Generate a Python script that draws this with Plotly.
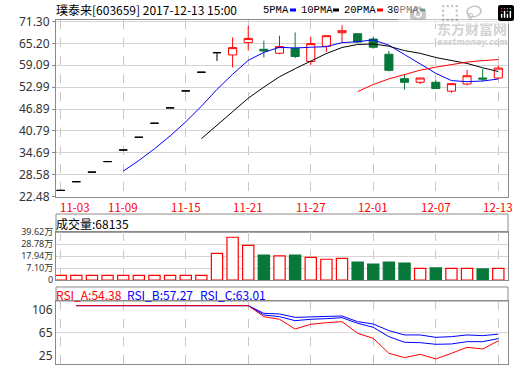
import plotly.graph_objects as go
import pandas as pd

# ---------------- data ----------------
dates = ["11-03", "11-06", "11-07", "11-08", "11-09", "11-10", "11-13", "11-14",
         "11-15", "11-16", "11-17", "11-20", "11-21", "11-22", "11-23", "11-24",
         "11-27", "11-28", "11-29", "11-30", "12-01", "12-04", "12-05", "12-06",
         "12-07", "12-08", "12-11", "12-12", "12-13"]
tick_labels = ["11-03", "11-09", "11-15", "11-21", "11-27", "12-01", "12-07", "12-13"]

opens = [24.24, 26.66, 29.33, 32.26, 35.49, 39.04, 42.94, 47.23, 51.95, 57.15, 62.60,
         61.97, 65.39, 63.54, 62.44, 63.82, 60.15, 64.37, 68.15, 67.88, 66.40,
         62.16, 55.35, 54.35, 54.35, 51.87, 53.88, 55.54, 55.54]
highs = [24.24, 26.66, 29.33, 32.26, 35.49, 39.04, 42.94, 47.23, 51.95, 57.15, 62.60,
         66.86, 70.09, 65.95, 67.33, 68.24, 67.05, 67.40, 70.26, 67.95, 67.10,
         63.07, 56.64, 55.60, 54.90, 53.97, 57.83, 58.10, 58.94]
lows = [24.24, 26.66, 29.33, 32.26, 35.49, 39.04, 42.94, 47.23, 51.95, 57.15, 60.30,
        58.50, 63.18, 61.25, 62.16, 61.06, 59.21, 62.80, 65.48, 65.30, 63.70,
        57.39, 52.31, 53.88, 52.59, 51.40, 53.52, 54.63, 55.26]
closes = [24.24, 26.66, 29.33, 32.26, 35.49, 39.04, 42.94, 47.23, 51.95, 57.15, 62.60,
          64.00, 66.58, 63.07, 64.29, 61.53, 65.12, 67.33, 68.71, 65.56, 64.10,
          57.67, 54.35, 55.54, 52.59, 53.97, 56.17, 55.26, 58.30]

# volume in 万 (10k shares)
volumes = [0.53, 0.53, 0.53, 0.53, 0.53, 0.53, 0.53, 0.53, 0.53, 0.53, 20.5,
           35.1, 27.8, 19.0, 18.1, 19.0, 16.9, 15.1, 16.0, 12.6, 10.8,
           12.6, 11.7, 6.9, 7.2, 6.9, 6.9, 6.3, 6.81]

rsi_a = [None, 100, 100, 100, 100, 100, 100, 100, 100, 100, 100, 100, 100,
         85.7, 82.3, 69.7, 75.8, 77.9, 79.2, 64.1, 57.6, 38.2, 32.6, 36.9, 30.9,
         38.2, 46.0, 43.8, 54.38]
rsi_b = [None, 100, 100, 100, 100, 100, 100, 100, 100, 100, 100, 100, 100,
         87.9, 85.7, 80.5, 82.3, 83.1, 84.4, 77.1, 71.9, 59.8, 52.5, 52.0, 49.9,
         50.3, 53.3, 53.3, 57.27]
rsi_c = [None, 100, 100, 100, 100, 100, 100, 100, 100, 100, 100, 100, 100,
         90.0, 89.2, 84.8, 85.7, 85.7, 86.6, 79.2, 76.2, 67.6, 62.0, 62.0, 58.9,
         59.8, 62.0, 61.1, 63.01]

price_ticks = [22.48, 28.58, 34.69, 40.79, 46.89, 52.99, 59.09, 65.20, 71.30]
vol_ticks = [7.10, 17.94, 28.78, 39.62]
vol_axis_min = -3.74
rsi_ticks = ["106", "65", "25"]

# ---------------- derived ----------------
close_s = pd.Series(closes)
ma5 = close_s.rolling(5).mean()
ma10 = close_s.rolling(10).mean()
ma20 = close_s.rolling(20).mean()

flat_idx = [i for i in range(len(dates)) if opens[i] == closes[i]]
move_idx = [i for i in range(len(dates)) if opens[i] != closes[i]]

RED = "#ff0000"
GREEN = "#08783a"
BLUE = "#0000ff"
FRAME = "#8a8a8a"
GRID = "#d4d4d4"
VGRID = "#c8c8c8"
CJK = "Noto Sans CJK SC"

W, H = 520, 365
ML, MR, MT, MB = 56, 12, 20, 1
PW = W - ML - MR
PH = H - MT - MB


def px(x):
    return (x - ML) / PW


def py(y):
    return (H - MB - y) / PH


fig = go.Figure()

# candles (flat one-price days drawn black)
fig.add_trace(go.Candlestick(
    x=[dates[i] for i in flat_idx], open=[opens[i] for i in flat_idx],
    high=[highs[i] for i in flat_idx], low=[lows[i] for i in flat_idx],
    close=[closes[i] for i in flat_idx],
    increasing=dict(line=dict(color="black", width=1), fillcolor="black"),
    decreasing=dict(line=dict(color="black", width=1), fillcolor="black"),
    xaxis="x", yaxis="y", showlegend=False, hoverinfo="skip"))
fig.add_trace(go.Candlestick(
    x=[dates[i] for i in move_idx], open=[opens[i] for i in move_idx],
    high=[highs[i] for i in move_idx], low=[lows[i] for i in move_idx],
    close=[closes[i] for i in move_idx],
    increasing=dict(line=dict(color=RED, width=1), fillcolor="white"),
    decreasing=dict(line=dict(color=GREEN, width=1), fillcolor=GREEN),
    xaxis="x", yaxis="y", showlegend=False, hoverinfo="skip"))

for ma, col in [(ma5, BLUE), (ma10, "black"), (ma20, RED)]:
    fig.add_trace(go.Scatter(x=dates, y=list(ma), mode="lines",
                             line=dict(color=col, width=1), xaxis="x", yaxis="y",
                             showlegend=False, hoverinfo="skip"))

# volume
up = [closes[i] >= opens[i] for i in range(len(dates))]
fig.add_trace(go.Bar(
    x=dates, y=[v - vol_axis_min for v in volumes], base=vol_axis_min, width=0.72,
    marker=dict(color=["white" if u else GREEN for u in up],
                line=dict(color=[RED if u else GREEN for u in up], width=1.2)),
    xaxis="x2", yaxis="y2", showlegend=False, hoverinfo="skip"))

# RSI
for r, col in [(rsi_c, BLUE), (rsi_b, BLUE), (rsi_a, RED)]:
    fig.add_trace(go.Scatter(x=dates, y=r, mode="lines", line=dict(color=col, width=1),
                             xaxis="x3", yaxis="y3", showlegend=False, hoverinfo="skip"))

xcommon = dict(type="category", range=[-0.30, 28.62], tickvals=tick_labels,
               showgrid=True, griddash="dash", gridcolor=VGRID, gridwidth=1,
               showline=True, mirror=True, linecolor=FRAME, linewidth=1,
               zeroline=False, ticks="", fixedrange=True, automargin=False,
               showticklabels=False)
ycommon = dict(showline=True, mirror=True, linecolor=FRAME, linewidth=1,
               zeroline=False, automargin=False, fixedrange=True)
TICKFONT = dict(family="Noto Sans, " + CJK, size=12, color="#333333")

fig.update_layout(
    template="none", boxgap=0.26,
    width=W, height=H, margin=dict(l=ML, r=MR, t=MT, b=MB, autoexpand=False),
    paper_bgcolor="white", plot_bgcolor="white", showlegend=False,
    xaxis=dict(**xcommon, anchor="y", rangeslider=dict(visible=False)),
    xaxis2=dict(**xcommon, anchor="y2", matches="x"),
    xaxis3=dict(**xcommon, anchor="y3", matches="x"),
    yaxis=dict(**ycommon, domain=[py(196.7), 1], range=[22.48, 71.70],
               tickvals=price_ticks, ticktext=["%.2f" % t for t in price_ticks],
               showgrid=True, gridcolor=GRID, ticks="outside", ticklen=3,
               tickcolor=FRAME, tickfont=TICKFONT),
    yaxis2=dict(**ycommon, domain=[py(280), py(232.3)], range=[vol_axis_min, 39.62],
                tickvals=[vol_axis_min] + vol_ticks,
                ticktext=["0"] + ["%.2f万" % t for t in vol_ticks],
                showgrid=True, gridcolor=GRID, ticks="",
                tickfont=dict(family="Noto Sans, " + CJK, size=9, color="#333333")),
    yaxis3=dict(**ycommon, domain=[0, py(301)], range=[24.35, 106],
                tickvals=[94.3, 65, 34.8], ticktext=rsi_ticks, showgrid=False,
                ticks="", tickfont=TICKFONT),
)

shapes = []
# header bands of the sub panels
for top, bot in [(214, 232.3), (287, 301)]:
    shapes.append(dict(type="rect", xref="paper", yref="paper", x0=0, x1=1,
                       y0=py(bot), y1=py(top), line=dict(color=FRAME, width=1),
                       fillcolor="white", layer="below"))
# RSI 65 grid line
shapes.append(dict(type="line", xref="x3 domain", yref="y3", x0=0, x1=1, y0=65, y1=65,
                   line=dict(color=GRID, width=1), layer="below"))
# legend colour marks
for x0, x1, col in [(290, 296, BLUE), (333, 339, "black"), (377, 383, RED), (420, 425, GREEN)]:
    shapes.append(dict(type="rect", xref="paper", yref="paper", x0=px(x0), x1=px(x1),
                       y0=py(11.5), y1=py(8.5), line=dict(width=0), fillcolor=col))
fig.update_layout(shapes=shapes)

ann = []


def text(x, y, s, col="black", size=12, family=CJK, anchor="left", **kw):
    ann.append(dict(xref="paper", yref="paper", x=px(x), y=py(y), text=s,
                    showarrow=False, xanchor=anchor, yanchor="middle", borderpad=0,
                    borderwidth=0, font=dict(family=family, size=size, color=col), **kw))


text(56, 10, "璞泰来[603659] 2017-12-13 15:00")
text(263, 10, "5PMA", size=10.5, family="Liberation Mono")
text(301, 10, "10PMA", size=10.5, family="Liberation Mono")
text(344, 10, "20PMA", size=10.5, family="Liberation Mono")
text(387, 10, "30PMA", size=10.5, family="Liberation Mono")
text(56, 223.3, "成交量:68135")
text(56, 294, "RSI_A:54.38", col=RED)
text(127, 294, "RSI_B:57.27", col=BLUE)
text(200, 294, "RSI_C:63.01", col=BLUE)
# watermark
text(507, 28, "<b>东方财富网</b>", col="#d2d2d2", size=14, anchor="right")
text(507, 42, "<b><i>eastmoney.com</i></b>", col="#d2d2d2", size=8,
     family="DejaVu Sans", anchor="right")

# date labels under the price panel (first one nudged right as in the original)
for k, lab in enumerate(tick_labels):
    ann.append(dict(xref="x", yref="paper", x=lab, y=py(206.5), text=lab,
                    showarrow=False, xanchor="center", yanchor="middle",
                    xshift=14 if k == 0 else 0, borderpad=0,
                    font=dict(family=CJK, size=11.5, color=RED)))
fig.update_layout(annotations=ann)

fig.write_html("out.html",
               post_script="document.body.style.margin='0';"
                           "document.body.style.overflow='hidden';")
